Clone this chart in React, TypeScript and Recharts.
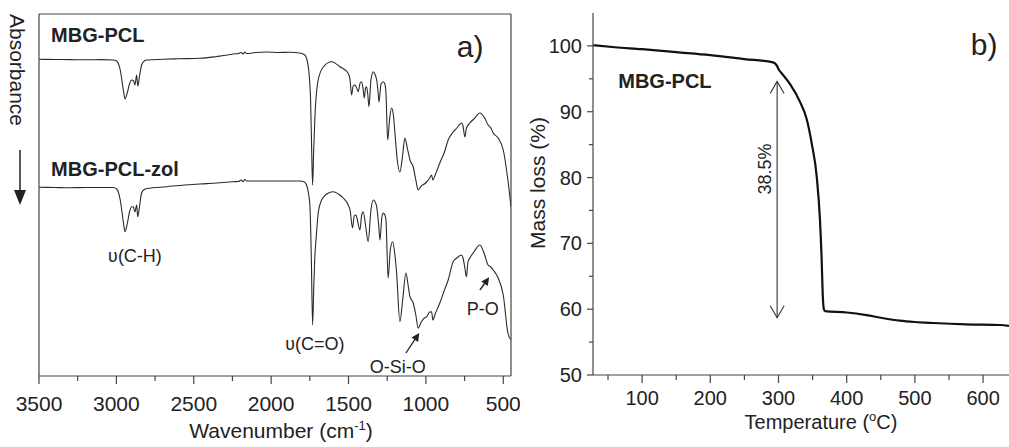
import React from 'react';
import { LineChart, Line, XAxis, YAxis, ReferenceDot, ReferenceLine } from 'recharts';

const FONT = '"Liberation Sans", Arial, sans-serif';
const AXIS = '#444';
const INK = '#222';

// ---------- Panel a) FTIR spectra (absorbance, arbitrary units) ----------
const pclWavenumbers = [3500, 3400, 3300, 3200, 3100, 3020, 2998, 2975, 2955, 2944, 2930, 2915, 2901, 2890, 2880, 2869, 2862, 2850, 2837, 2820, 2804, 2700, 2600, 2460, 2350, 2280, 2245, 2210, 2195, 2180, 2170, 2158, 2100, 2029, 1950, 1880, 1814, 1782, 1760, 1745, 1738, 1732, 1725, 1717, 1696, 1663, 1609, 1556, 1502, 1490, 1480, 1470, 1459, 1447, 1437, 1425, 1415, 1405, 1398, 1390, 1383, 1375, 1368, 1355, 1340, 1330, 1318, 1310, 1303, 1290, 1276, 1265, 1258, 1247, 1235, 1222, 1210, 1200, 1185, 1168, 1150, 1136, 1120, 1103, 1082, 1065, 1050, 1030, 1010, 995, 975, 963, 955, 940, 910, 880, 856, 824, 800, 770, 760, 748, 738, 716, 690, 651, 620, 598, 580, 565, 533, 500, 470, 450];
const pclAbsorbance = [316.7, 316.5, 316.4, 316.2, 316.4, 316, 315, 306, 286, 277, 283, 292, 296, 295.5, 291, 301, 290, 300, 311, 315, 316, 316.7, 317.2, 317.7, 319.5, 321, 322, 322.5, 323.5, 322, 324, 322.5, 323.5, 324, 323.5, 323.7, 323, 321, 309.3, 276, 226, 191, 226, 259, 296, 309, 314.3, 309.3, 302.7, 296, 281, 290, 291, 288, 284.3, 293, 294.3, 286, 278, 288, 289.3, 281, 269.3, 296, 304.3, 302, 296, 286, 274, 292, 294.3, 292, 283, 236, 256, 268, 261, 243, 216, 204, 221, 238, 228, 216, 209, 196, 186, 190, 192, 194, 198, 201, 196, 201, 213, 224, 236, 244, 248, 253, 250, 239, 248, 253, 257, 263, 258, 251, 248, 243, 238, 226, 196, 169];

const zolWavenumbers = [3500, 3400, 3300, 3200, 3100, 3020, 2998, 2975, 2955, 2944, 2930, 2915, 2901, 2890, 2880, 2869, 2862, 2850, 2837, 2820, 2800, 2675, 2560, 2460, 2350, 2245, 2210, 2195, 2180, 2170, 2158, 2100, 2029, 1900, 1814, 1785, 1771, 1760, 1749, 1740, 1732, 1725, 1717, 1710, 1695, 1674, 1640, 1599, 1565, 1534, 1502, 1490, 1474, 1463, 1452, 1440, 1426, 1415, 1405, 1390, 1373, 1355, 1340, 1328, 1318, 1305, 1297, 1285, 1276, 1265, 1258, 1244, 1230, 1215, 1200, 1189, 1168, 1150, 1129, 1115, 1103, 1082, 1065, 1050, 1030, 1010, 995, 975, 963, 955, 940, 910, 880, 856, 824, 800, 770, 760, 748, 738, 728, 716, 690, 651, 620, 598, 580, 565, 533, 500, 470, 450];
const zolAbsorbance = [188.7, 188.5, 188.2, 188.5, 188.5, 188.5, 187, 176, 154, 144.3, 152, 164, 169.3, 169, 164, 171, 159.3, 170, 183, 186.5, 187.5, 189.3, 191, 192, 193, 194.3, 194.5, 196, 194.5, 196.5, 195, 195, 195, 195, 195, 194, 191, 184, 169.3, 116, 51, 86, 121, 136, 164, 176, 182, 184.3, 182, 178, 171, 166, 148, 160, 161, 154, 146, 161, 164.3, 151, 134.3, 166, 176, 174, 169.3, 151, 136, 158, 163, 161, 156, 98, 126, 134.3, 121, 103, 54.3, 76, 103, 91, 79.3, 73, 61, 48, 54, 58, 59.3, 64, 64.3, 56, 62, 73, 86, 96, 114.3, 118, 121, 118, 108, 99.3, 114, 118, 124, 131, 121, 111, 109, 106, 98, 81, 43, 36];

const irTicks = [500, 750, 1000, 1250, 1500, 1750, 2000, 2250, 2500, 2750, 3000, 3250, 3500];

// ---------- Panel b) TGA ----------
const tgaTemperature = [28, 60, 100, 150, 200, 250, 292, 297, 301, 305, 317, 331.5, 341, 348.7, 356, 360.8, 363.3, 364.8, 366.5, 368.5, 400, 429, 450, 478, 500, 527, 575, 625, 638];
const tgaMass = [100.1, 99.8, 99.5, 99.05, 98.6, 98.0, 97.5, 97.1, 96.3, 95.8, 94.2, 91.5, 89.0, 85.2, 80.2, 73.6, 67.5, 62.4, 60.0, 59.7, 59.5, 59.1, 58.7, 58.25, 58.05, 57.9, 57.7, 57.6, 57.45];
const tgaXTicks = [50, 100, 150, 200, 250, 300, 350, 400, 450, 500, 550, 600];
const tgaYTicks = [50, 55, 60, 65, 70, 75, 80, 85, 90, 95, 100];

const pclData = pclWavenumbers.map((wn, i) => ({ wn, a: pclAbsorbance[i] }));
const zolData = zolWavenumbers.map((wn, i) => ({ wn, a: zolAbsorbance[i] }));
const tgaData = tgaTemperature.map((t, i) => ({ t, m: tgaMass[i] }));

const IrTick = (props: any) => {
  const { x, y, payload } = props;
  const major = payload.value % 500 === 0;
  return (
    <g>
      <line x1={x} x2={x} y1={y} y2={y + (major ? 8 : 5)} stroke={AXIS} strokeWidth={1.2} />
      {major && (
        <text x={x} y={y + 35} textAnchor="middle" fontSize={21} fontFamily={FONT} fill={INK}>
          {payload.value}
        </text>
      )}
    </g>
  );
};

const TgaXTick = (props: any) => {
  const { x, y, payload } = props;
  const major = payload.value % 100 === 0;
  return (
    <g>
      <line x1={x} x2={x} y1={y} y2={y + (major ? 8 : 5)} stroke={AXIS} strokeWidth={1.2} />
      {major && (
        <text x={x} y={y + 30} textAnchor="middle" fontSize={20} fontFamily={FONT} fill={INK}>
          {payload.value}
        </text>
      )}
    </g>
  );
};

const TgaYTick = (props: any) => {
  const { x, y, payload } = props;
  const major = payload.value % 10 === 0;
  return (
    <g>
      <line x1={x} x2={x - (major ? 6 : 4)} y1={y} y2={y} stroke={AXIS} strokeWidth={1.2} />
      {major && (
        <text x={x - 11} y={y + 7} textAnchor="end" fontSize={20} fontFamily={FONT} fill={INK}>
          {payload.value}
        </text>
      )}
    </g>
  );
};

const textShape = (txt: string, size: number, opts: any = {}) => (p: any) => (
  <text
    x={p.cx}
    y={p.cy}
    fontSize={size}
    fontFamily={FONT}
    fill={INK}
    textAnchor={opts.anchor || 'start'}
    fontWeight={opts.bold ? 'bold' : 'normal'}
    transform={opts.rotate ? `rotate(${opts.rotate} ${p.cx} ${p.cy})` : undefined}
  >
    {txt}
  </text>
);

const filledArrow = (p: any) => {
  const { x1, y1, x2, y2 } = p;
  const ang = Math.atan2(y2 - y1, x2 - x1);
  const L = 8, W = 4;
  const bx = x2 - L * Math.cos(ang), by = y2 - L * Math.sin(ang);
  const nx = -Math.sin(ang), ny = Math.cos(ang);
  return (
    <g>
      <line x1={x1} y1={y1} x2={bx} y2={by} stroke={INK} strokeWidth={1.3} />
      <polygon points={`${x2},${y2} ${bx + nx * W},${by + ny * W} ${bx - nx * W},${by - ny * W}`} fill={INK} />
    </g>
  );
};

const doubleArrow = (p: any) => {
  const { x1, y1, x2, y2 } = p;
  const top = Math.min(y1, y2), bot = Math.max(y1, y2);
  return (
    <g stroke="#333" strokeWidth={1.1} fill="none">
      <line x1={x1} y1={top} x2={x2} y2={bot} />
      <polyline points={`${x1 - 7},${top + 12} ${x1},${top} ${x1 + 7},${top + 12}`} />
      <polyline points={`${x1 - 7},${bot - 12} ${x1},${bot} ${x1 + 7},${bot - 12}`} />
    </g>
  );
};

const AbsLabel = (props: any) => {
  const vb = props.viewBox || { x: 38, y: 14, width: 1 };
  const axisX = vb.x + (vb.width || 0);
  const bx = axisX - 29;
  const cy = vb.y + 56;
  const ax = axisX - 19;
  return (
    <g>
      <text x={bx} y={cy} fontSize={21} fontFamily={FONT} fill={INK} textAnchor="middle" transform={`rotate(90 ${bx} ${cy})`}>
        Absorbance
      </text>
      <line x1={ax} x2={ax} y1={vb.y + 136} y2={vb.y + 178} stroke={INK} strokeWidth={1.5} />
      <polygon points={`${ax - 6},${vb.y + 176} ${ax + 6},${vb.y + 176} ${ax},${vb.y + 191}`} fill={INK} />
    </g>
  );
};

const WaveLabel = (props: any) => {
  const vb = props.viewBox;
  const cx = vb.x + vb.width / 2 + 6;
  const y = vb.y + 62;
  return (
    <text x={cx} y={y} fontSize={21} fontFamily={FONT} fill={INK} textAnchor="middle">
      Wavenumber  (cm
      <tspan fontSize={13} dy={-8}>-1</tspan>
      <tspan dy={8}>)</tspan>
    </text>
  );
};

const TempLabel = (props: any) => {
  const vb = props.viewBox;
  const cx = vb.x + 228;
  const y = vb.y + 54;
  return (
    <text x={cx} y={y} fontSize={20} fontFamily={FONT} fill={INK} textAnchor="middle">
      Temperature (
      <tspan fontSize={13} dy={-8}>o</tspan>
      <tspan dy={8}>C)</tspan>
    </text>
  );
};

const MassLabel = (props: any) => {
  const vb = props.viewBox;
  const x = vb.x + 45;
  const y = vb.y + 170;
  return (
    <text x={x} y={y} fontSize={21} fontFamily={FONT} fill={INK} textAnchor="middle" transform={`rotate(-90 ${x} ${y})`}>
      Mass loss (%)
    </text>
  );
};

const PanelA = () => (
  <LineChart width={520} height={447} margin={{ top: 13, right: 8, bottom: 0, left: 38 }}>
    <XAxis
      dataKey="wn"
      type="number"
      domain={[450, 3500]}
      reversed
      allowDataOverflow
      ticks={irTicks}
      interval={0}
      tickSize={0}
      tickMargin={0}
      tickLine={false}
      tick={<IrTick />}
      height={71}
      axisLine={{ stroke: AXIS, strokeWidth: 1.2 }}
      label={WaveLabel}
    />
    <XAxis xAxisId="top" orientation="top" dataKey="wn" type="number" domain={[450, 3500]} reversed allowDataOverflow height={1} tick={false} tickLine={false} axisLine={{ stroke: AXIS, strokeWidth: 1.2 }} />
    <YAxis type="number" domain={[0, 362]} allowDataOverflow width={1} tick={false} tickLine={false} axisLine={{ stroke: AXIS, strokeWidth: 1.2 }} label={AbsLabel} />
    <YAxis yAxisId="r" orientation="right" type="number" domain={[0, 362]} allowDataOverflow width={1} tick={false} tickLine={false} axisLine={{ stroke: AXIS, strokeWidth: 1.2 }} />
    <Line data={pclData} dataKey="a" type="monotone" stroke="#2a2a2a" strokeWidth={1.1} dot={false} activeDot={false} isAnimationActive={false} />
    <Line data={zolData} dataKey="a" type="monotone" stroke="#2a2a2a" strokeWidth={1.1} dot={false} activeDot={false} isAnimationActive={false} />
    <ReferenceDot x={3422} y={334} ifOverflow="visible" shape={textShape('MBG-PCL', 20, { bold: true })} />
    <ReferenceDot x={3422} y={200} ifOverflow="visible" shape={textShape('MBG-PCL-zol', 20, { bold: true })} />
    <ReferenceDot x={800} y={319} ifOverflow="visible" shape={textShape('a)', 30)} />
    <ReferenceDot x={2880} y={114} ifOverflow="visible" shape={textShape('\u028B(C-H)', 18, { anchor: 'middle' })} />
    <ReferenceDot x={1717} y={26} ifOverflow="visible" shape={textShape('\u028B(C=O)', 18, { anchor: 'middle' })} />
    <ReferenceDot x={1181} y={3} ifOverflow="visible" shape={textShape('O-Si-O', 18, { anchor: 'middle' })} />
    <ReferenceDot x={632} y={61} ifOverflow="visible" shape={textShape('P-O', 18, { anchor: 'middle' })} />
    <ReferenceLine segment={[{ x: 1129, y: 23 }, { x: 1043, y: 43 }]} ifOverflow="visible" shape={filledArrow} />
    <ReferenceLine segment={[{ x: 651, y: 86 }, { x: 591, y: 98.7 }]} ifOverflow="visible" shape={filledArrow} />
  </LineChart>
);

const PanelB = () => (
  <LineChart width={509} height={447} margin={{ top: 13, right: 0, bottom: 0, left: 0 }}>
    <XAxis
      dataKey="t"
      type="number"
      domain={[28, 638]}
      allowDataOverflow
      ticks={tgaXTicks}
      interval={0}
      tickSize={0}
      tickMargin={0}
      tickLine={false}
      tick={<TgaXTick />}
      height={72}
      axisLine={{ stroke: AXIS, strokeWidth: 1.2 }}
      label={TempLabel}
    />
    <YAxis
      type="number"
      domain={[50, 105]}
      allowDataOverflow
      ticks={tgaYTicks}
      interval={0}
      tickSize={0}
      tickMargin={0}
      tickLine={false}
      tick={<TgaYTick />}
      width={93}
      axisLine={{ stroke: AXIS, strokeWidth: 1.2 }}
      label={MassLabel}
    />
    <Line data={tgaData} dataKey="m" type="monotone" stroke="#111" strokeWidth={2.2} dot={false} activeDot={false} isAnimationActive={false} />
    <ReferenceDot x={65} y={93.6} ifOverflow="visible" shape={textShape('MBG-PCL', 20, { bold: true })} />
    <ReferenceDot x={289} y={81.3} ifOverflow="visible" shape={textShape('38.5%', 18, { anchor: 'middle', rotate: -90 })} />
    <ReferenceDot x={582} y={98.6} ifOverflow="visible" shape={textShape('b)', 30)} />
    <ReferenceLine segment={[{ x: 298, y: 94.6 }, { x: 298, y: 58.7 }]} ifOverflow="visible" shape={doubleArrow} />
  </LineChart>
);

export default function App() {
  return (
    <div style={{ position: 'absolute', left: 0, top: 0, width: 1009, height: 447, background: '#fff', overflow: 'hidden' }}>
      <div style={{ position: 'absolute', left: 0, top: 0 }}>
        <PanelA />
      </div>
      <div style={{ position: 'absolute', left: 500, top: 0 }}>
        <PanelB />
      </div>
    </div>
  );
}
